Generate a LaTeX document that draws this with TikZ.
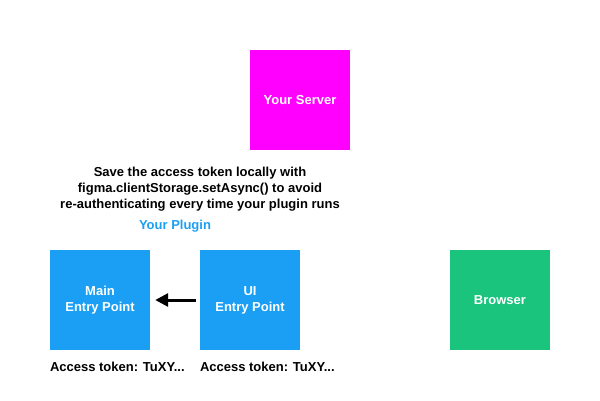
\documentclass[tikz,border=0pt]{standalone}
\usepackage{fontspec}
\setmainfont{Liberation Sans}
\usetikzlibrary{arrows.meta}
\definecolor{srvmagenta}{HTML}{FF00FF}
\definecolor{plugblue}{HTML}{1A9FF5}
\definecolor{brwgreen}{HTML}{1BC47D}
\tikzset{
  box/.style={minimum width=100, minimum height=100, inner sep=0pt,
    align=center, text=white, font=\bfseries\fontsize{13}{16}\selectfont},
  label/.style={inner sep=0pt, font=\bfseries\fontsize{13}{16}\selectfont},
}
\begin{document}
\begin{tikzpicture}[x=1pt,y=-1pt]
  \useasboundingbox (0,0) rectangle (600,400);
  % server on top
  \node[box, fill=srvmagenta] (server) at (300,100) {Your Server};
  % caption above the plugin
  \node[label, align=center] (note) at (200,189)
    {Save the access token locally with\\figma.clientStorage.setAsync() to avoid\\re-authenticating every time your plugin runs};
  \node[label, text=plugblue] (plugin) at (175,226) {Your Plugin};
  % the plugin's two entry points and the browser
  \node[box, fill=plugblue] (main) at (100,300) {Main\\Entry Point};
  \node[box, fill=plugblue] (ui) at (250,300) {UI\\Entry Point};
  \node[box, fill=brwgreen] (browser) at (500,300) {Browser};
  \foreach \b in {main,ui} {
    \node[label, anchor=west] (tok\b) at ([yshift=-17]\b.south west) {Access token: TuXY...};
  }
  \draw[line width=3pt, -{Triangle[length=13pt,width=13pt]}] ([xshift=-4]ui.west) -- ([xshift=5]main.east);
\end{tikzpicture}
\end{document}
